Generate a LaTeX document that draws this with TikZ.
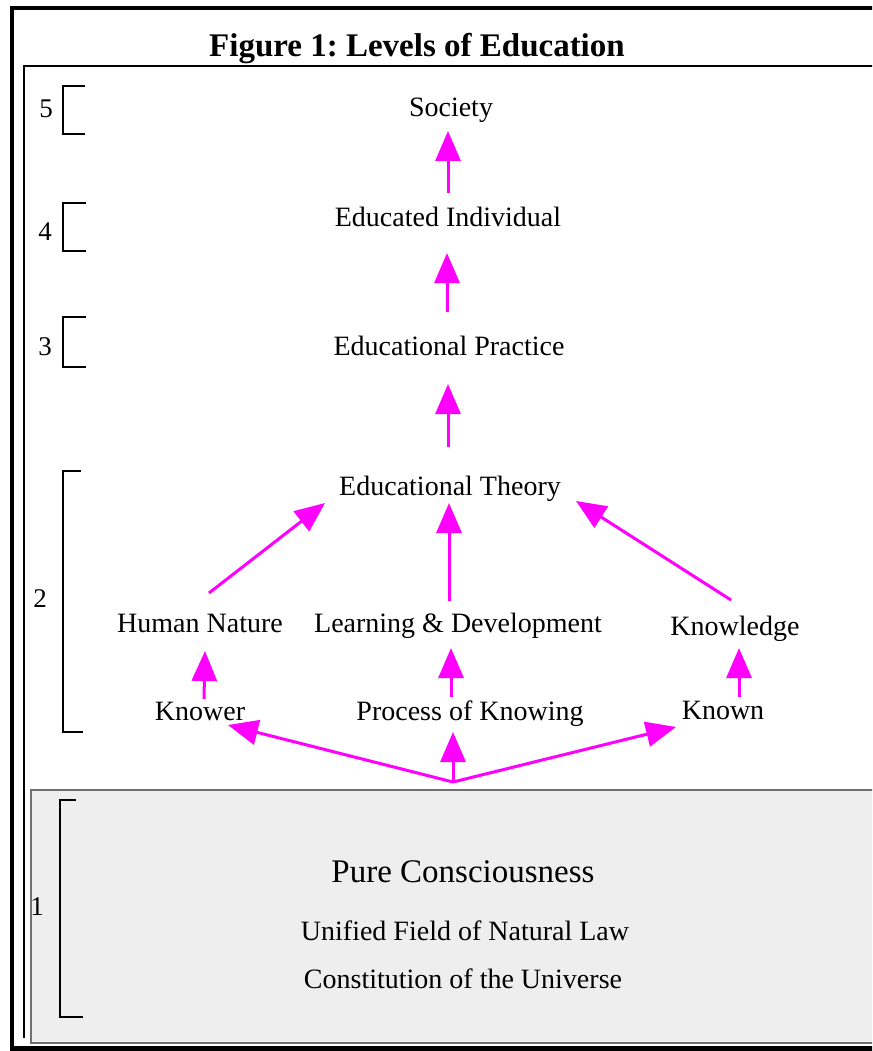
\documentclass[tikz,border=0pt]{standalone}
\usepackage{fontspec}
\setmainfont{Liberation Serif}
\usetikzlibrary{arrows.meta,calc}
\definecolor{flow}{HTML}{FF00FF}
\definecolor{panel}{HTML}{EEEEEE}
\definecolor{panelrule}{HTML}{707070}
\frenchspacing

\begin{document}
\begin{tikzpicture}[x=1pt,y=-1pt,
  lbl/.style={anchor=base,inner sep=0pt,font=\fontsize{28}{32}\selectfont},
  big/.style={anchor=base,inner sep=0pt,font=\fontsize{33}{38}\selectfont},
  num/.style={anchor=base,inner sep=0pt,font=\fontsize{27}{30}\selectfont},
  flowarrow/.style={draw=flow,line width=3pt,-{Triangle[length=30pt,width=25pt]}},
  bracket/.style={draw=black,line width=2.5pt},
]
\useasboundingbox (0,0) rectangle (872,1051);
\begin{scope}
\clip (0,0) rectangle (872,1051);
% shaded panel for level 1
\draw[fill=panel,draw=panelrule,line width=1.5pt] (31,790) rectangle (900,1043);
% outer frame
\draw[line width=4pt] (900,8) -- (12,8) -- (12,1049);
\draw[line width=5pt] (10,1048.5) -- (900,1048.5);
% inner frame
\draw[line width=2.5pt] (24,1038) -- (24,66) -- (900,66);
\end{scope}

% title
\node[anchor=base,inner sep=0pt,font=\bfseries\fontsize{33}{38}\selectfont] (title) at (417,57) {Figure 1: Levels of Education};

% level labels
\node[lbl] (soc) at (451,117) {Society};
\node[lbl] (ei)  at (448,226) {Educated Individual};
\node[lbl] (ep)  at (449,355) {Educational Practice};
\node[lbl] (et)  at (450,495) {Educational Theory};
\node[lbl] (hn)  at (200,632) {Human Nature};
\node[lbl] (ld)  at (458,632) {Learning \& Development};
\node[lbl] (kl)  at (735,635) {Knowledge};
\node[lbl] (kw)  at (200,720) {Knower};
\node[lbl] (pk)  at (470,720) {Process of Knowing};
\node[lbl] (kn)  at (723,719) {Known};
\node[big] (pc)  at (463,882) {Pure Consciousness};
\node[lbl] (uf)  at (465,940) {Unified Field of Natural Law};
\node[lbl] (cu)  at (463,988) {Constitution of the Universe};

% level brackets and numbers
\draw[bracket] (85,86) -- (63,86) -- (63,134) -- (85,134);
\node[num] (n5) at (46,118) {5};
\draw[bracket] (86,203) -- (63,203) -- (63,251) -- (86,251);
\node[num] (n4) at (45,240) {4};
\draw[bracket] (86,317) -- (63,317) -- (63,367) -- (86,367);
\node[num] (n3) at (45,355) {3};
\draw[bracket] (81,471) -- (63,471) -- (63,732) -- (83,732);
\node[num] (n2) at (40,607) {2};
\draw[bracket] (76,800) -- (60,800) -- (60,1017) -- (83,1017);
\node[num] (n1) at (37,915) {1};

% upward flow
\draw[flowarrow] ($(ei.base)+(0,-33)$) -- ($(soc.base)+(-3,14)$);
\draw[flowarrow] ($(ep.base)+(-2,-43)$) -- ($(ei.base)+(-1,27)$);
\draw[flowarrow] ($(et.base)+(-2,-48)$) -- ($(ep.base)+(-1,29)$);
\draw[flowarrow] ($(ld.base)+(-9,-31)$) -- ($(et.base)+(-1,8)$);
\draw[flowarrow] ($(hn.base)+(9,-39)$) -- ($(et.base)+(-125,8)$);
\draw[flowarrow] ($(kl.base)+(-4,-35)$) -- ($(et.base)+(126,6)$);
\draw[flowarrow] ($(kw.base)+(4,-21)$) -- ($(hn.base)+(5,19)$);
\draw[flowarrow] ($(pk.base)+(-19,-23)$) -- ($(ld.base)+(-7,16)$);
\draw[flowarrow] ($(kn.base)+(16,-22)$) -- ($(kl.base)+(4,13)$);

% fan out from the unified field
\coordinate (J) at (453,782);
\draw[flowarrow] (J) -- ($(kw.base)+(28,5)$);
\draw[flowarrow] (J) -- ($(pk.base)+(-17,12)$);
\draw[flowarrow] (J) -- ($(kn.base)+(-47,8)$);
\end{tikzpicture}
\end{document}
